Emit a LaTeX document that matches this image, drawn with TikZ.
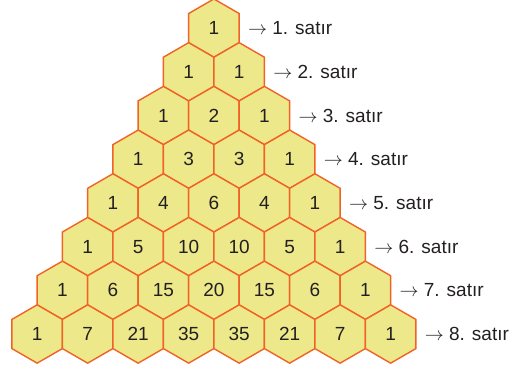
\RequirePackage{fix-cm}
\documentclass[tikz,border=0pt]{standalone}
\usepackage{fontspec}
\setmainfont{Liberation Sans}
\usetikzlibrary{
    positioning,
    shapes.geometric
}
\definecolor{HexFill}{RGB}{237,233,138}
\definecolor{HexLine}{RGB}{240,98,38}
\definecolor{TextDark}{RGB}{35,31,32}

\begin{document}
\begin{tikzpicture}[
    x=1pt, y=1pt,
    node distance=8pt,
    hex/.style={regular polygon, regular polygon sides=6, shape border rotate=30, draw=HexLine, fill=HexFill, line width=1.4pt, inner sep=0pt, minimum size=58.3pt, font=\fontsize{19}{22}\selectfont, text=TextDark},
    lbl/.style={inner sep=0pt, font=\fontsize{19}{22}\selectfont, text=TextDark},
]
\useasboundingbox (0,0) rectangle (528,368);
\foreach \r/\vals in {1/{1}, 2/{1,1}, 3/{1,2,1}, 4/{1,3,3,1}, 5/{1,4,6,4,1}, 6/{1,5,10,10,5,1}, 7/{1,6,15,20,15,6,1}, 8/{1,7,21,35,35,21,7,1}} {
    \foreach \v [count=\k] in \vals {
        \node[hex] (h-\r-\k) at ({213.9+(\k-(\r+1)/2)*50.5}, {34+(8-\r)*43.7}) {\v};
    }
    \node[lbl, right=of h-\r-\r] (s-\r) {$\rightarrow$ \r. satır};
}
\end{tikzpicture}
\end{document}
